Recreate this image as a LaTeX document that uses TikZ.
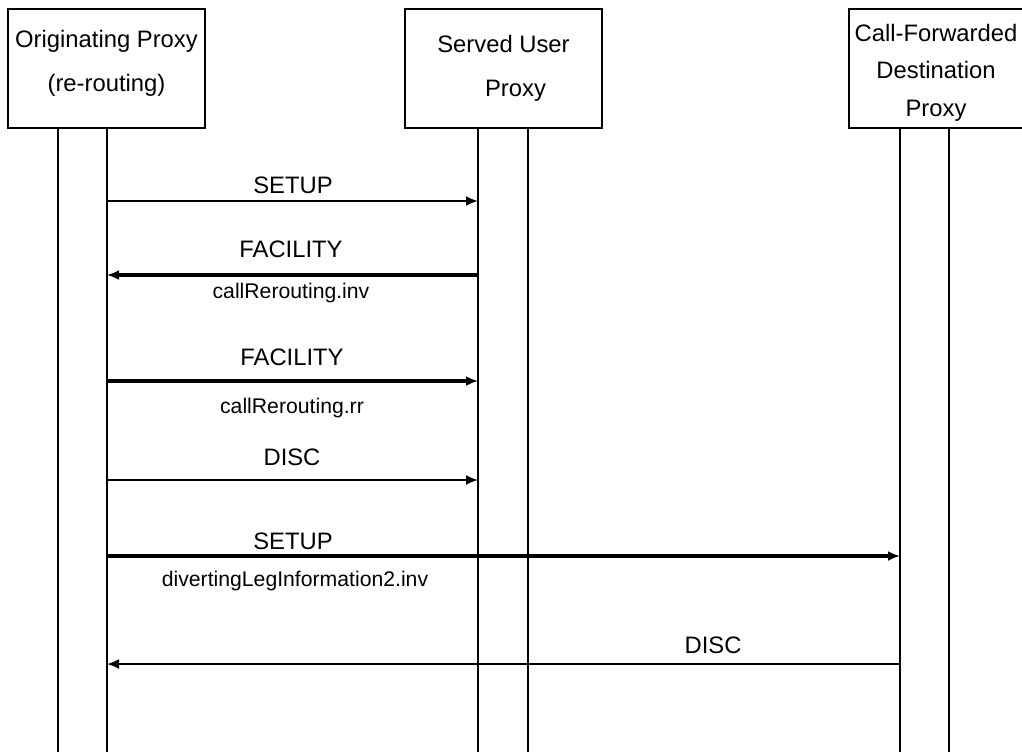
\documentclass[tikz,border=0pt]{standalone}
\usepackage{fontspec}
\setmainfont{Liberation Sans}
\usetikzlibrary{arrows.meta}

\begin{document}
\begin{tikzpicture}[
x=0.5pt, y=-0.5pt,
box/.style={draw,
line width=1pt,
rectangle,
minimum width=98.5pt,
minimum height=59.5pt,
inner sep=0pt},
head/.style={align=center, inner sep=0pt, font=\fontsize{11.9}{21.7}\selectfont},
life/.style={line width=1pt},
msg/.style={-{Latex[length=6pt,width=5pt]}, line width=1pt},
bigmsg/.style={-{Latex[length=6pt,width=5pt]}, line width=2pt},
lbl/.style={anchor=base, font=\fontsize{11.9}{13}\selectfont},
note/.style={anchor=base, font=\fontsize{10.6}{12}\selectfont}
]
\useasboundingbox (0,0) rectangle (1022,752);

% proxies
\node[box] (orig) at (106.5,68.5) {};
\node[box] (served) at (503.5,68.5) {};
\node[box, minimum width=87pt] (dest) at (936,68.5) {};

\node[head, yshift=2.5pt] (origtxt) at (orig) {Originating Proxy\\(re-routing)};
\node[head] (servedtxt) at (served) {Served User\\\hspace*{12pt}Proxy};
\node[head, yshift=-2pt, font=\fontsize{11.9}{18.75}\selectfont] (desttxt) at (dest) {Call-Forwarded\\Destination\\Proxy};

% lifelines
\coordinate (origA) at (58,752);
\coordinate (origB) at (107,752);
\coordinate (servedA) at (478,752);
\coordinate (servedB) at (528,752);
\coordinate (destA) at (900,752);
\coordinate (destB) at (949,752);

\draw[life] (origA |- orig.south) -- (origA);
\draw[life] (origB |- orig.south) -- (origB);
\draw[life] (servedA |- served.south) -- (servedA);
\draw[life] (servedB |- served.south) -- (servedB);
\draw[life] (destA |- dest.south) -- (destA);
\draw[life] (destB |- dest.south) -- (destB);

% message rows
\coordinate (row1) at (0,201);
\coordinate (row2) at (0,275);
\coordinate (row3) at (0,381);
\coordinate (row4) at (0,480);
\coordinate (row5) at (0,556);
\coordinate (row6) at (0,664);

\draw[msg] (origB |- row1) -- (servedA |- row1);
\draw[bigmsg] (servedA |- row2) -- (origB |- row2);
\draw[bigmsg] (origB |- row3) -- (servedA |- row3);
\draw[msg] (origB |- row4) -- (servedA |- row4);
\draw[bigmsg] (origB |- row5) -- (destA |- row5);
\draw[msg] (destA |- row6) -- (origB |- row6);

% labels
\node[lbl] (setup1) at (293,193) {SETUP};
\node[lbl] (fac1) at (291,257.5) {FACILITY};
\node[note] (inv1) at (291,298) {callRerouting.inv};
\node[lbl] (fac2) at (292,365.5) {FACILITY};
\node[note] (rr1) at (292,413) {callRerouting.rr};
\node[lbl] (disc1) at (292,465.5) {DISC};
\node[lbl] (setup2) at (293,549) {SETUP};
\node[note] (leg1) at (295,586) {divertingLegInformation2.inv};
\node[lbl] (disc2) at (713,653) {DISC};

\end{tikzpicture}
\end{document}
